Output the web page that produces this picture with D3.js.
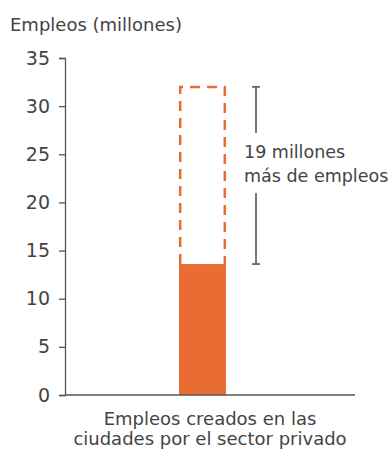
<!DOCTYPE html>
<html>
<head>
<meta charset="utf-8">
<script src="https://cdn.jsdelivr.net/npm/d3@7"></script>
<style>
  body { margin: 0; background: #fff; }
  svg { display: block; font-family: "DejaVu Sans", sans-serif; }
</style>
</head>
<body>
<div id="chart"></div>
<script>
const categories = ["Empleos creados en las ciudades por el sector privado"];
const currentJobs = [13.6];
const potentialJobs = [32];
const yTicks = [0, 5, 10, 15, 20, 25, 30, 35];
const title = "Empleos (millones)";
const gapLabel = ["19 millones", "más de empleos"];
const categoryLines = ["Empleos creados en las", "ciudades por el sector privado"];

const width = 392, height = 449;
const margin = { top: 58, right: 37, bottom: 54, left: 65 };
const orange = "#e96c33";
const textColor = "#444";
const fontFam = "'DejaVu Sans', sans-serif";

const svg = d3.select("#chart")
  .append("svg")
  .attr("width", width)
  .attr("height", height);

const y = d3.scaleLinear()
  .domain([0, 35])
  .range([height - margin.bottom, margin.top]);

// bar band sits a little left of the axis centre, as in the original
const x = d3.scaleBand()
  .domain(categories)
  .range([margin.left, 340]);
const barW = 47;

// title
svg.append("text")
  .attr("x", 10)
  .attr("y", 31)
  .attr("fill", textColor)
  .style("font-size", "18px")
  .text(title);

// y axis
const yAxis = svg.append("g")
  .attr("transform", `translate(${margin.left},0)`)
  .call(d3.axisLeft(y).tickValues(yTicks).tickSize(6).tickPadding(9));
yAxis.select(".domain").attr("stroke", "#555").attr("stroke-width", 1.3);
yAxis.selectAll(".tick line").attr("stroke", "#555").attr("stroke-width", 1.3);
yAxis.selectAll(".tick text")
  .attr("fill", textColor)
  .style("font-size", "19px")
  .style("font-family", fontFam);

// solid bar
svg.selectAll("rect.bar")
  .data(categories)
  .join("rect")
  .attr("class", "bar")
  .attr("x", (d) => x(d) + x.bandwidth() / 2 - barW / 2)
  .attr("width", barW)
  .attr("y", (d, i) => y(currentJobs[i]))
  .attr("height", (d, i) => y(0) - y(currentJobs[i]))
  .attr("fill", orange);

// dashed outline for potential jobs
svg.selectAll("path.potential")
  .data(categories)
  .join("path")
  .attr("class", "potential")
  .attr("d", (d, i) => {
    const x0 = x(d) + x.bandwidth() / 2 - barW / 2 + 1.2;
    const x1 = x0 + barW - 2.4;
    const yb = y(currentJobs[i]);
    const yt = y(potentialJobs[i]);
    return `M${x0},${yb}V${yt}H${x1}V${yb}`;
  })
  .attr("fill", "none")
  .attr("stroke", orange)
  .attr("stroke-width", 2.5)
  .attr("stroke-dasharray", "10,7");

// x axis line
svg.append("line")
  .attr("x1", margin.left)
  .attr("x2", width - margin.right)
  .attr("y1", y(0))
  .attr("y2", y(0))
  .attr("stroke", "#555")
  .attr("stroke-width", 1.3);

// bracket showing the gap
const bx = 256, cap = 4;
const yTop = y(potentialJobs[0]);
const yBot = y(currentJobs[0]);
const bracket = svg.append("g").attr("stroke", "#555").attr("stroke-width", 1.6);
bracket.append("line").attr("x1", bx - cap).attr("x2", bx + cap).attr("y1", yTop).attr("y2", yTop);
bracket.append("line").attr("x1", bx - cap).attr("x2", bx + cap).attr("y1", yBot).attr("y2", yBot);
bracket.append("line").attr("x1", bx).attr("x2", bx).attr("y1", yTop).attr("y2", 133);
bracket.append("line").attr("x1", bx).attr("x2", bx).attr("y1", 193).attr("y2", yBot);

svg.append("g")
  .selectAll("text")
  .data(gapLabel)
  .join("text")
  .attr("x", 244)
  .attr("y", (d, i) => 158 + i * 24)
  .attr("fill", textColor)
  .style("font-size", "17.5px")
  .text((d) => d);

// category label
const cx = (margin.left + width - margin.right) / 2;
svg.append("g")
  .selectAll("text")
  .data(categoryLines)
  .join("text")
  .attr("x", cx)
  .attr("y", (d, i) => 425 + i * 19.5)
  .attr("text-anchor", "middle")
  .attr("fill", textColor)
  .style("font-size", "18px")
  .text((d) => d);
</script>
</body>
</html>
